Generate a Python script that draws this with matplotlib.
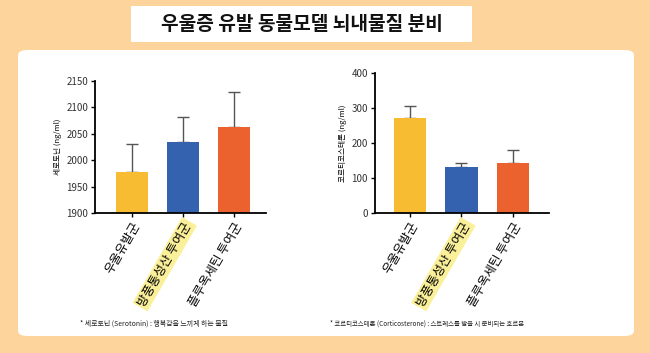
import matplotlib
matplotlib.use("Agg")
import matplotlib.pyplot as plt
from matplotlib.patches import FancyBboxPatch, Rectangle

plt.rcParams['font.family'] = ['Noto Sans CJK KR', 'DejaVu Sans']

groups = ["우울유발군", "방풍통성산 투여군", "플루옥세틴 투여군"]
colors = ["#F8BC33", "#3462AE", "#EB622E"]
serotonin = [1978, 2035, 2063]
serotonin_err = [52, 47, 67]
cort = [270, 132, 142]
cort_err = [35, 10, 38]
sero_ticks = [1900, 1950, 2000, 2050, 2100, 2150]
cort_ticks = [0, 100, 200, 300, 400]

fig = plt.figure(figsize=(6.5, 3.53), dpi=100)
W, H = 650, 353
fig.patch.set_facecolor("#FDD59C")

def px(x, y, w, h):
    return (x / W, 1 - (y + h) / H, w / W, h / H)

# white panel
x0, y0, w0, h0 = px(18, 50, 616, 286)
fig.patches.append(FancyBboxPatch((x0, y0), w0, h0,
                                  boxstyle="round,pad=0,rounding_size=0.015",
                                  transform=fig.transFigure, facecolor="white",
                                  edgecolor="none", zorder=-5))
# title box
tx, ty, tw, th = px(131, 6, 341, 36)
fig.patches.append(Rectangle((tx, ty), tw, th, transform=fig.transFigure,
                             facecolor="white", edgecolor="none", zorder=-5))
fig.text((131 + 341 / 2) / W, 1 - 24 / H, "우울증 유발 동물모델 뇌내물질 분비",
         ha="center", va="center", fontsize=13.8, fontweight="bold", color="#111111")

def make(ax, vals, errs, ticks, ylim, xlim, ylabel):
    xs = range(len(vals))
    ax.bar(xs, vals, width=0.63, color=colors, zorder=2)
    ax.errorbar(xs, vals, yerr=[[0] * len(errs), errs], fmt="none",
                ecolor="#555555", elinewidth=1, capsize=4.5, capthick=1, zorder=1)
    ax.set_ylim(*ylim)
    ax.set_xlim(*xlim)
    ax.set_yticks(ticks)
    ax.tick_params(axis="y", labelsize=7, length=3, width=1, pad=2,
                   labelcolor="#333333")
    ax.tick_params(axis="x", length=3, width=1, pad=2)
    ax.set_xticks(list(xs))
    ax.set_xticklabels(groups, rotation=60, ha="right", va="top",
                       rotation_mode="anchor", fontsize=9)
    ax.set_ylabel(ylabel, fontsize=5.5, labelpad=3)
    for s in ["top", "right"]:
        ax.spines[s].set_visible(False)
    for s in ["left", "bottom"]:
        ax.spines[s].set_linewidth(1.3)
    ax.set_facecolor("none")
    lab = ax.get_xticklabels()[1]
    lab.set_bbox(dict(facecolor="#FBF09A", edgecolor="none", pad=1.5))

ax1 = fig.add_axes(px(95, 81, 171, 132))
make(ax1, serotonin, serotonin_err, sero_ticks, (1900, 2150), (-0.72, 2.63),
     "세로토닌 (ng/ml)")
ax2 = fig.add_axes(px(375, 73, 174, 140))
make(ax2, cort, cort_err, cort_ticks, (0, 400), (-0.68, 2.70),
     "코르티코스테론 (ng/ml)")

fig.text(80 / W, 1 - 324 / H, "* 세로토닌 (Serotonin) : 행복감을 느끼게 하는 물질",
         fontsize=5, va="center", ha="left", color="#222222")
fig.text(330 / W, 1 - 324 / H,
         "* 코르티코스테론 (Corticosterone) : 스트레스를 받을 시 분비되는 호르몬",
         fontsize=4.6, va="center", ha="left", color="#222222")

fig.savefig("out.png", dpi=100, facecolor=fig.get_facecolor())
